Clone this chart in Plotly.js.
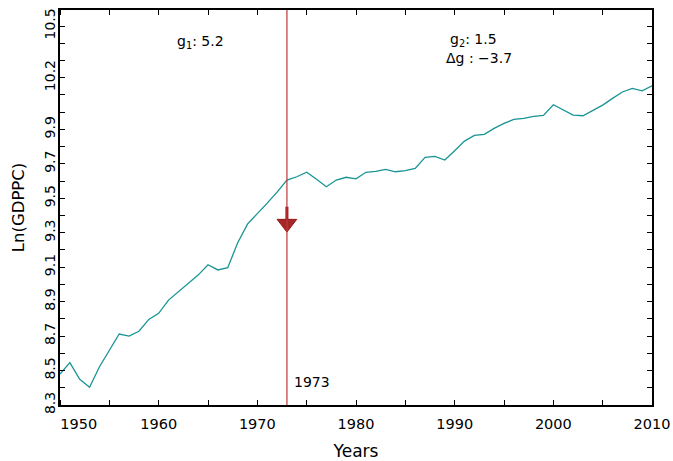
<!DOCTYPE html>
<html>
<head>
<meta charset="utf-8">
<script src="https://cdn.plot.ly/plotly-3.0.1.min.js"></script>
<style>html,body{margin:0;padding:0;background:#fff;}#chart{width:673px;height:461px;}</style>
</head>
<body>
<div id="chart"></div>
<script>
// ---- data ----
const years = [1950,1951,1952,1953,1954,1955,1956,1957,1958,1959,
               1960,1961,1962,1963,1964,1965,1966,1967,1968,1969,
               1970,1971,1972,1973,1974,1975,1976,1977,1978,1979,
               1980,1981,1982,1983,1984,1985,1986,1987,1988,1989,
               1990,1991,1992,1993,1994,1995,1996,1997,1998,1999,
               2000,2001,2002,2003,2004,2005,2006,2007,2008,2009,2010];
const lnGdppc = [8.480,8.546,8.449,8.403,8.522,8.619,8.712,8.700,8.728,8.797,
                 8.832,8.909,8.958,9.006,9.054,9.114,9.084,9.097,9.240,9.350,
                 9.409,9.472,9.536,9.606,9.625,9.651,9.610,9.567,9.606,9.622,
                 9.613,9.651,9.656,9.668,9.654,9.660,9.674,9.738,9.743,9.722,
                 9.776,9.832,9.865,9.871,9.906,9.935,9.958,9.964,9.976,9.981,
                 10.043,10.012,9.983,9.979,10.008,10.041,10.080,10.117,10.138,10.124,10.153];
const breakYear = 1973;
const breakLabel = "1973";
const arrowStemTop = 9.451;
const arrowTriangleY = 9.353;
const arrowTriangleTop = 9.378;
const g1Text = "g<sub>1</sub>: 5.2";
const g2Text = "g<sub>2</sub>: 1.5";
const dgText = "Δg : −3.7";
const xTickVals = [1951.9,1960,1970,1980,1990,2000,2010];
const xTickText = ["1950","1960","1970","1980","1990","2000","2010"];
const yTickVals = [8.3,8.5,8.7,8.9,9.1,9.3,9.5,9.7,9.9,10.2,10.5];
const yTickText = ["8.3","8.5","8.7","8.9","9.1","9.3","9.5","9.7","9.9","10.2","10.5"];

const FONT = "DejaVu Sans, sans-serif";
const darkRed = "rgb(150,20,20)";

const traces = [
  {x: years, y: lnGdppc, type: "scatter", mode: "lines",
   line: {color: "rgb(25,148,148)", width: 1.3}, hoverinfo: "skip"},
  {x: [breakYear, breakYear], y: [arrowStemTop, arrowTriangleTop], type: "scatter", mode: "lines",
   line: {color: darkRed, width: 3}, hoverinfo: "skip"},
  {x: [breakYear], y: [arrowTriangleY], type: "scatter", mode: "markers",
   marker: {symbol: "triangle-down", size: 17, color: "rgb(165,40,40)",
            line: {color: darkRed, width: 1}}, hoverinfo: "skip"}
];

const layout = {
  width: 673, height: 461,
  margin: {l: 60, r: 21, t: 10, b: 56},
  paper_bgcolor: "#fff", plot_bgcolor: "#fff",
  showlegend: false,
  font: {family: FONT, size: 13, color: "#000"},
  xaxis: {
    range: [1950, 2010], showgrid: false, zeroline: false,
    showline: true, linecolor: "#000", linewidth: 2, mirror: "ticks",
    tickmode: "array", tickvals: xTickVals, ticktext: xTickText,
    ticks: "", ticklen: 0, ticklabelstandoff: 5,
    minor: {tick0: 1950, dtick: 5, ticks: "inside", ticklen: 5, tickwidth: 1, tickcolor: "#000", showgrid: false},
    tickfont: {family: FONT, size: 14.5, color: "#000"},
    title: {text: "Years", font: {family: FONT, size: 17, color: "#000"}, standoff: 14}
  },
  yaxis: {
    range: [8.3, 10.593], showgrid: false, zeroline: false,
    showline: true, linecolor: "#000", linewidth: 2, mirror: "ticks",
    tickmode: "array", tickvals: yTickVals, ticktext: yTickText,
    ticks: "inside", ticklen: 5, tickwidth: 1, tickcolor: "#000", ticklabelstandoff: -3,
    minor: {tick0: 8.3, dtick: 0.1, ticks: "inside", ticklen: 5, tickwidth: 1, tickcolor: "#000", showgrid: false},
    tickangle: -90,
    tickfont: {family: FONT, size: 14, color: "#000"},
    title: {text: "Ln(GDPPC)", font: {family: FONT, size: 16.5, color: "#000"}, standoff: 14}
  },
  shapes: [
    {type: "line", xref: "x", yref: "paper", x0: breakYear, x1: breakYear, y0: 0, y1: 1,
     line: {color: "rgb(190,55,55)", width: 1.2}}
  ],
  annotations: [
    {text: g1Text, xref: "paper", yref: "paper", x: 0.195, y: 0.919, xanchor: "left", yanchor: "middle",
     showarrow: false, font: {family: FONT, size: 14, color: "#000"}},
    {text: g2Text, xref: "paper", yref: "paper", x: 0.656, y: 0.924, xanchor: "left", yanchor: "middle",
     showarrow: false, font: {family: FONT, size: 14, color: "#000"}},
    {text: dgText, xref: "paper", yref: "paper", x: 0.648, y: 0.878, xanchor: "left", yanchor: "middle",
     showarrow: false, font: {family: FONT, size: 14, color: "#000"}},
    {text: breakLabel, xref: "x", yref: "paper", x: breakYear, y: 0.058, xanchor: "left", yanchor: "middle",
     xshift: 5, showarrow: false, font: {family: FONT, size: 14, color: "#000"}}
  ]
};

Plotly.newPlot("chart", traces, layout, {displayModeBar: false, staticPlot: true});
</script>
</body>
</html>
